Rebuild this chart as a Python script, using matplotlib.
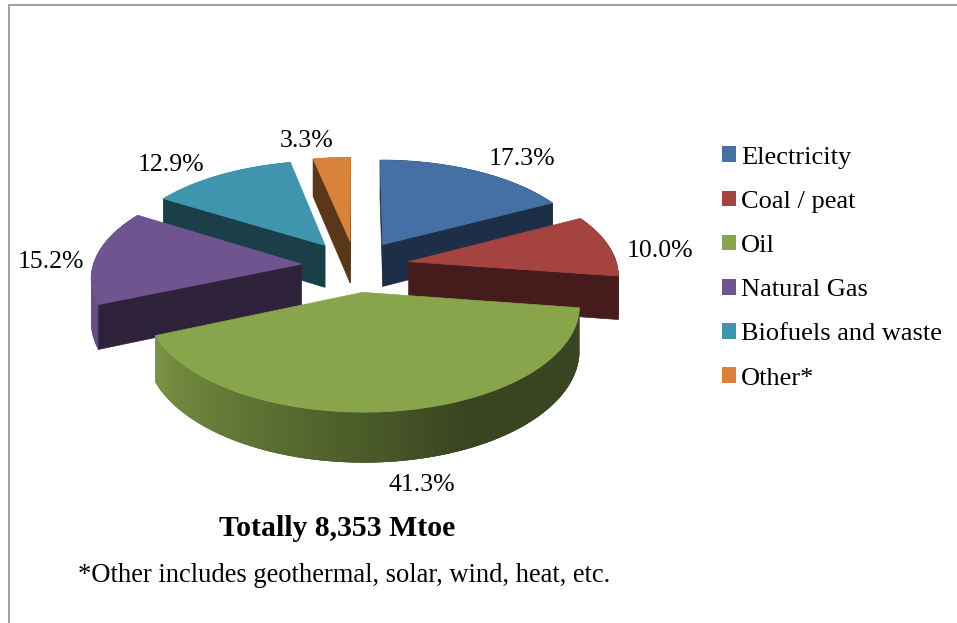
import numpy as np
import matplotlib
matplotlib.use("Agg")
import matplotlib.pyplot as plt
from matplotlib.patches import Patch

plt.rcParams["font.family"] = ["Liberation Serif", "DejaVu Serif"]

categories = ["Electricity", "Coal / peat", "Oil", "Natural Gas", "Biofuels and waste", "Other*"]
shares = [17.3, 10.0, 41.3, 15.2, 12.9, 3.3]
colours = ["#4470a6", "#a54341", "#88a54b", "#6f5490", "#3f95ae", "#d9823b"]
title = "Totally 8,353 Mtoe"
footnote = "*Other includes geothermal, solar, wind, heat, etc."

# pie geometry, in pixels of the canvas
CX, CY = 355.5, 266.0
RX, RY = 208.6, 99.1
PERSPECTIVE = 0.117
EXPLODE = 0.26
DEPTH = 43.0
WALL_SHADE = 0.42

# back slices first so the nearer ones cover them
draw_order = [0, 5, 4, 1, 3, 2]
label_pos = [(522, 159), (660, 251), (422, 485), (51, 262), (171, 165), (307, 141)]


def project(u, v, drop=0.0):
    # u, v are on the pie plane, v points away from the viewer
    scale = 1.0 / (1.0 + PERSPECTIVE * v)
    return CX + RX * u * scale, CY - RY * v * scale + drop * scale


def rim_shade(theta):
    # outer wall goes from dark on the right to nearly lit on the left
    return WALL_SHADE + (0.92 - WALL_SHADE) * np.clip((theta - 155.0) / 95.0, 0, 1)


def face_visible(apex, rim, mid):
    # a cut face shows only when the slice top lies above its edge on screen
    dx, dy = rim[0] - apex[0], rim[1] - apex[1]
    if dx < 0:
        dx, dy = -dx, -dy
    return dx * (mid[1] - apex[1]) - dy * (mid[0] - apex[0]) < 0


def draw_slice(ax, start, end, colour):
    rgb = np.array(matplotlib.colors.to_rgb(colour))
    mid = np.radians((start + end) / 2)
    ou, ov = EXPLODE * np.sin(mid), EXPLODE * np.cos(mid)

    theta = np.linspace(start, end, max(int(end - start) * 2, 6))
    rad = np.radians(theta)
    u = ou + np.sin(rad)
    v = ov + np.cos(rad)
    x, y = project(u, v)
    xb, yb = project(u, v, DEPTH)
    ax_, ay_ = project(ou, ov)
    axb, ayb = project(ou, ov, DEPTH)

    # outer wall, strips overlap so no seams show between the shades
    for i in range(len(theta) - 1):
        j = min(i + 3, len(theta) - 1)
        c = rgb * rim_shade(theta[i])
        ax.fill([x[i], x[j], xb[j], xb[i]], [y[i], y[j], yb[j], yb[i]],
                color=c, lw=0, zorder=2)

    # radial cut faces
    wall = rgb * WALL_SHADE
    centre = len(theta) // 2
    for i in (0, -1):
        if face_visible((ax_, ay_), (x[i], y[i]), (x[centre], y[centre])):
            ax.fill([ax_, x[i], xb[i], axb], [ay_, y[i], yb[i], ayb],
                    color=wall, lw=0.5, zorder=2)

    ax.fill(np.r_[ax_, x], np.r_[ay_, y], color=colour, lw=0.5, zorder=2)


fig = plt.figure(figsize=(9.57, 6.23), dpi=100)
ax = fig.add_axes([0, 0, 1, 1])
ax.set_xlim(0, 957)
ax.set_ylim(623, 0)
ax.axis("off")

# chart frame, cut off by the canvas on the right and at the bottom
ax.plot([9, 9, 960], [630, 5, 5], color="#a3a3a3", lw=1.5)

edges = np.r_[0, np.cumsum(shares)] / np.sum(shares) * 360
for i in draw_order:
    draw_slice(ax, edges[i], edges[i + 1], colours[i])

for share, (lx, ly) in zip(shares, label_pos):
    ax.text(lx, ly, f"{share:.1f}%", fontsize=18.5, ha="center", va="center", color="black")

handles = [Patch(facecolor=c, label=n) for n, c in zip(categories, colours)]
ax.legend(handles=handles, loc="upper left", bbox_to_anchor=(722, 146.5),
          bbox_transform=ax.transData, frameon=False, fontsize=19,
          handlelength=0.53, handleheight=0.53, handletextpad=0.19,
          labelspacing=0.836, borderpad=0, borderaxespad=0)

ax.text(337, 529, title, fontsize=21.4, fontweight="bold", ha="center", va="center")
ax.text(78, 575, footnote, fontsize=19.1, ha="left", va="center")

fig.savefig("out.png", dpi=100)
